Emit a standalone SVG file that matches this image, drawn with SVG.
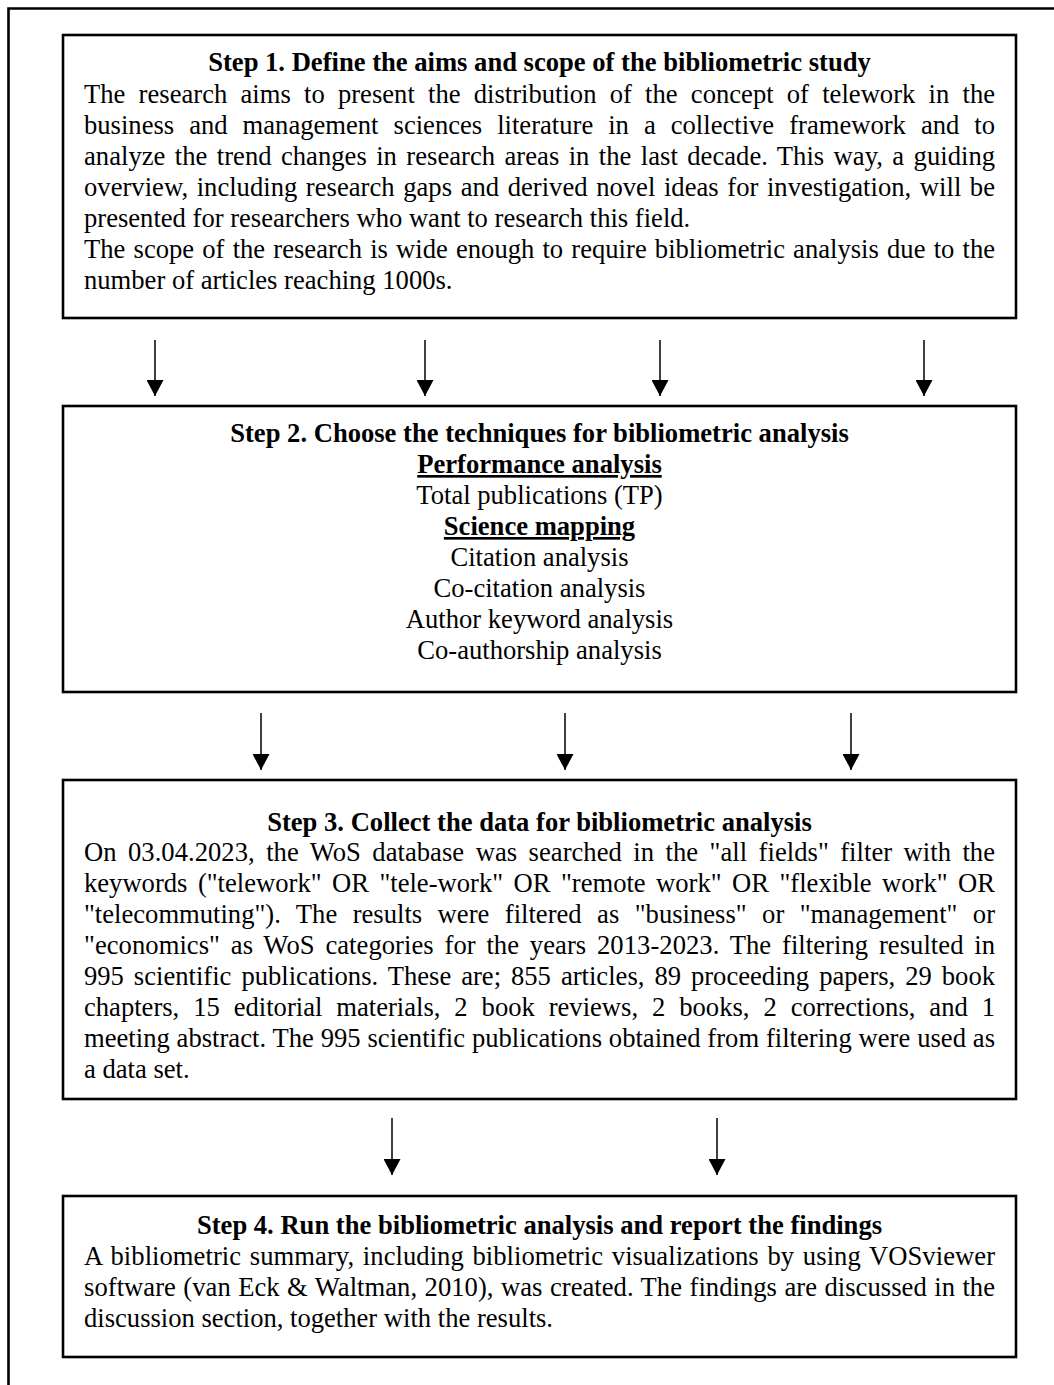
<svg xmlns="http://www.w3.org/2000/svg" width="1054" height="1385" viewBox="0 0 1054 1385">
<style>
.box{fill:#fff;stroke:#000;stroke-width:2.6}
.t{font-family:"Liberation Serif","Times New Roman",serif;font-size:26.6px;fill:#000}
.c{text-anchor:middle}
.bd{font-weight:bold}
.u{text-decoration:underline}
.arr{stroke:#000;stroke-width:1.5;fill:none;marker-end:url(#ah)}
</style>
<defs>
<marker id="ah" markerUnits="userSpaceOnUse" markerWidth="16" markerHeight="17" viewBox="0 0 16 17" refX="16" refY="8.5" orient="auto">
<path d="M0,0 L16,8.5 L0,17 Z" fill="#000"/>
</marker>
</defs>
<rect width="1054" height="1385" fill="#fff"/>
<g id="frame">
<path d="M8.5,1385 L8.5,8.5 L1054,8.5" fill="none" stroke="#000" stroke-width="2.6"/>
</g>
<g id="step1">
<rect class="box" x="63" y="35" width="953" height="283"/>
<text class="t c bd" x="539.5" y="71">Step 1. Define the aims and scope of the bibliometric study</text>
<text class="t" x="84" y="103" word-spacing="6.6" textLength="911" lengthAdjust="spacing">The research aims to present the distribution of the concept of telework in the</text>
<text class="t" x="84" y="134" word-spacing="8.36" textLength="911" lengthAdjust="spacing">business and management sciences literature in a collective framework and to</text>
<text class="t" x="84" y="165" word-spacing="2.7" textLength="911" lengthAdjust="spacing">analyze the trend changes in research areas in the last decade. This way, a guiding</text>
<text class="t" x="84" y="196" word-spacing="1.9" textLength="911" lengthAdjust="spacing">overview, including research gaps and derived novel ideas for investigation, will be</text>
<text class="t" x="84" y="227">presented for researchers who want to research this field.</text>
<text class="t" x="84" y="258" word-spacing="1.5" textLength="911" lengthAdjust="spacing">The scope of the research is wide enough to require bibliometric analysis due to the</text>
<text class="t" x="84" y="289">number of articles reaching 1000s.</text>
</g>
<g id="step2">
<rect class="box" x="63" y="406" width="953" height="286"/>
<text class="t c bd" x="539.5" y="442">Step 2. Choose the techniques for bibliometric analysis</text>
<text class="t c bd u" x="539.5" y="473">Performance analysis</text>
<text class="t c" x="539.5" y="504">Total publications (TP)</text>
<text class="t c bd u" x="539.5" y="535">Science mapping</text>
<text class="t c" x="539.5" y="566">Citation analysis</text>
<text class="t c" x="539.5" y="597">Co-citation analysis</text>
<text class="t c" x="539.5" y="628">Author keyword analysis</text>
<text class="t c" x="539.5" y="659">Co-authorship analysis</text>
</g>
<g id="step3">
<rect class="box" x="63" y="780" width="953" height="319"/>
<text class="t c bd" x="539.5" y="831">Step 3. Collect the data for bibliometric analysis</text>
<text class="t" x="84" y="861" word-spacing="4.76" textLength="911" lengthAdjust="spacing">On 03.04.2023, the WoS database was searched in the "all fields" filter with the</text>
<text class="t" x="84" y="892" word-spacing="3.8" textLength="911" lengthAdjust="spacing">keywords ("telework" OR "tele-work" OR "remote work" OR "flexible work" OR</text>
<text class="t" x="84" y="923" word-spacing="8.8" textLength="911" lengthAdjust="spacing">"telecommuting"). The results were filtered as "business" or "management" or</text>
<text class="t" x="84" y="954" word-spacing="4.1" textLength="911" lengthAdjust="spacing">"economics" as WoS categories for the years 2013-2023. The filtering resulted in</text>
<text class="t" x="84" y="985" word-spacing="3.3" textLength="911" lengthAdjust="spacing">995 scientific publications. These are; 855 articles, 89 proceeding papers, 29 book</text>
<text class="t" x="84" y="1016" word-spacing="7.3" textLength="911" lengthAdjust="spacing">chapters, 15 editorial materials, 2 book reviews, 2 books, 2 corrections, and 1</text>
<text class="t" x="84" y="1047" word-spacing="0.2" textLength="911" lengthAdjust="spacing">meeting abstract. The 995 scientific publications obtained from filtering were used as</text>
<text class="t" x="84" y="1078">a data set.</text>
</g>
<g id="step4">
<rect class="box" x="63" y="1196" width="953" height="161"/>
<text class="t c bd" x="539.5" y="1234">Step 4. Run the bibliometric analysis and report the findings</text>
<text class="t" x="84" y="1265" word-spacing="2" textLength="911" lengthAdjust="spacing">A bibliometric summary, including bibliometric visualizations by using VOSviewer</text>
<text class="t" x="84" y="1296" word-spacing="0.75" textLength="911" lengthAdjust="spacing">software (van Eck &amp; Waltman, 2010), was created. The findings are discussed in the</text>
<text class="t" x="84" y="1327">discussion section, together with the results.</text>
</g>
<g id="connectors">
<line class="arr" x1="155" y1="340" x2="155" y2="396"/>
<line class="arr" x1="425" y1="340" x2="425" y2="396"/>
<line class="arr" x1="660" y1="340" x2="660" y2="396"/>
<line class="arr" x1="924" y1="340" x2="924" y2="396"/>
<line class="arr" x1="261" y1="713" x2="261" y2="770"/>
<line class="arr" x1="565" y1="713" x2="565" y2="770"/>
<line class="arr" x1="851" y1="713" x2="851" y2="770"/>
<line class="arr" x1="392" y1="1118" x2="392" y2="1175"/>
<line class="arr" x1="717" y1="1118" x2="717" y2="1175"/>
</g>
</svg>
